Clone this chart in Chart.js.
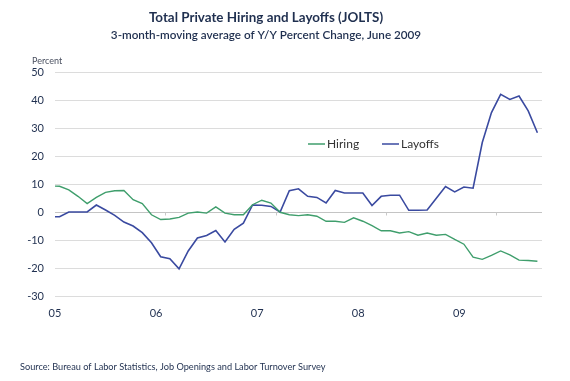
<!DOCTYPE html>
<html>
<head>
<meta charset="utf-8">
<script src="https://cdn.jsdelivr.net/npm/chart.js@4.4.1/dist/chart.umd.min.js"></script>
<style>
  html, body { margin: 0; padding: 0; background: #fff; }
  #chart { display: block; }
</style>
</head>
<body>
<canvas id="chart" width="570" height="381"></canvas>
<script>
// Mois : Dec 2004 -> May 2009 (le premier point est coupé par le bord du graphique)
const months = [
  'Dec 04',
  'Jan 05', 'Feb 05', 'Mar 05', 'Apr 05', 'May 05', 'Jun 05', 'Jul 05', 'Aug 05', 'Sep 05', 'Oct 05', 'Nov 05', 'Dec 05',
  'Jan 06', 'Feb 06', 'Mar 06', 'Apr 06', 'May 06', 'Jun 06', 'Jul 06', 'Aug 06', 'Sep 06', 'Oct 06', 'Nov 06', 'Dec 06',
  'Jan 07', 'Feb 07', 'Mar 07', 'Apr 07', 'May 07', 'Jun 07', 'Jul 07', 'Aug 07', 'Sep 07', 'Oct 07', 'Nov 07', 'Dec 07',
  'Jan 08', 'Feb 08', 'Mar 08', 'Apr 08', 'May 08', 'Jun 08', 'Jul 08', 'Aug 08', 'Sep 08', 'Oct 08', 'Nov 08', 'Dec 08',
  'Jan 09', 'Feb 09', 'Mar 09', 'Apr 09', 'May 09'
];

const hiring = [
  9.3,
  9.2, 7.9, 5.6, 3.0, 5.2, 7.0, 7.6, 7.7, 4.4, 3.0, -1.0, -2.7,
  -2.5, -1.9, -0.4, 0.0, -0.4, 1.8, -0.4, -1.0, -1.0, 2.6, 4.2, 3.2,
  -0.1, -1.0, -1.3, -1.0, -1.5, -3.3, -3.3, -3.7, -2.1, -3.3, -4.9, -6.7,
  -6.7, -7.5, -7.0, -8.3, -7.5, -8.3, -8.0, -9.8, -11.5, -16.1, -16.9, -15.5,
  -13.9, -15.3, -17.2, -17.3, -17.6
];

const layoffs = [
  -1.7,
  -1.7, 0.0, 0.0, 0.0, 2.5, 0.7, -1.2, -3.6, -5.0, -7.4, -11.0, -16.0,
  -16.7, -20.3, -13.9, -9.3, -8.4, -6.6, -10.7, -6.2, -4.0, 2.5, 2.4, 2.0,
  0.0, 7.6, 8.3, 5.6, 5.2, 3.2, 7.7, 6.8, 6.8, 6.8, 2.3, 5.6, 6.0,
  6.0, 0.6, 0.6, 0.7, 4.9, 9.1, 7.2, 8.9, 8.5, 24.8, 35.5, 42.0,
  40.2, 41.4, 36.1, 28.3
];

// Étiquettes de l'axe X (positions en index de mois, Jan 05 = 0)
const yearLabels = ['05', '06', '07', '08', '09'];
const yearLabelPos = [-0.5, 10.5, 21.5, 32.5, 43.5];
const yearBreaks = [11.5, 23.5, 35.5, 47.5];

const yMin = -30, yMax = 50, yStep = 10;

const NAVY = '#1f2f4f';
const FONT = 'Lato, "Open Sans", sans-serif';

function toPoints(values) {
  return values.map((v, k) => ({ x: k - 1, y: v }));
}

// === Titres, légende, source ===
const decorPlugin = {
  id: 'decor',
  afterDraw(chart) {
    const ctx = chart.ctx;
    const xs = chart.scales.x;
    const ys = chart.scales.y;
    ctx.save();

    // petits traits sur la ligne zéro
    ctx.strokeStyle = '#c8c8c8';
    ctx.lineWidth = 1;
    const y0 = Math.round(ys.getPixelForValue(0)) + 0.5;
    yearBreaks.forEach(v => {
      const x = Math.round(xs.getPixelForValue(v)) + 0.5;
      ctx.beginPath();
      ctx.moveTo(x, y0);
      ctx.lineTo(x, y0 + 3);
      ctx.stroke();
    });

    ctx.fillStyle = NAVY;
    ctx.textAlign = 'center';
    ctx.textBaseline = 'middle';
    ctx.font = 'bold 13.4px ' + FONT;
    ctx.fillText('Total Private Hiring and Layoffs (JOLTS)', 266, 18);
    ctx.font = '600 11.7px ' + FONT;
    ctx.fillText('3-month-moving average of Y/Y Percent Change, June 2009', 266, 35);

    ctx.textAlign = 'left';
    ctx.font = '9px ' + FONT;
    ctx.fillStyle = '#4a5060';
    ctx.fillText('Percent', 32, 61);

    ctx.fillStyle = NAVY;
    ctx.font = '9.2px ' + FONT;
    ctx.fillText('Source: Bureau of Labor Statistics, Job Openings and Labor Turnover Survey', 20, 367);

    // légende
    const items = [
      { label: 'Hiring', color: chart.data.datasets[0].borderColor, x: 308 },
      { label: 'Layoffs', color: chart.data.datasets[1].borderColor, x: 382 }
    ];
    ctx.font = '12px ' + FONT;
    items.forEach(it => {
      ctx.strokeStyle = it.color;
      ctx.lineWidth = 1.5;
      ctx.beginPath();
      ctx.moveTo(it.x, 144);
      ctx.lineTo(it.x + 17, 144);
      ctx.stroke();
      ctx.fillStyle = '#333';
      ctx.fillText(it.label, it.x + 19, 144);
    });

    ctx.restore();
  }
};

const chart = new Chart(document.getElementById('chart').getContext('2d'), {
  type: 'line',
  data: {
    labels: months,
    datasets: [
      {
        label: 'Hiring',
        data: toPoints(hiring),
        borderColor: '#3f9e6c',
        borderWidth: 1.4,
        pointRadius: 0,
        tension: 0,
        fill: false
      },
      {
        label: 'Layoffs',
        data: toPoints(layoffs),
        borderColor: '#3a4aa0',
        borderWidth: 1.6,
        pointRadius: 0,
        tension: 0,
        fill: false
      }
    ]
  },
  options: {
    responsive: false,
    animation: false,
    layout: { padding: { top: 72, right: 28, bottom: 54, left: 0 } },
    plugins: {
      legend: { display: false },
      tooltip: { enabled: false },
      title: { display: false }
    },
    scales: {
      x: {
        type: 'linear',
        min: -0.5,
        max: 52.5,
        afterBuildTicks: scale => {
          scale.ticks = yearLabelPos.map(v => ({ value: v }));
        },
        afterFit: scale => { scale.height = 31; },
        ticks: {
          autoSkip: false,
          maxRotation: 0,
          padding: 3,
          color: NAVY,
          font: { family: FONT, size: 11 },
          callback: (v, i) => yearLabels[i]
        },
        grid: { display: false },
        border: { display: false }
      },
      y: {
        min: yMin,
        max: yMax,
        ticks: {
          stepSize: yStep,
          padding: 11,
          color: NAVY,
          font: { family: FONT, size: 11 }
        },
        afterFit: scale => { scale.width = 55; },
        grid: {
          color: ctx => ctx.tick && ctx.tick.value === 0 ? '#c4c4c4' : '#dcdcdc',
          lineWidth: 1,
          drawTicks: false
        },
        border: { display: false }
      }
    }
  },
  plugins: [decorPlugin]
});
</script>
</body>
</html>
